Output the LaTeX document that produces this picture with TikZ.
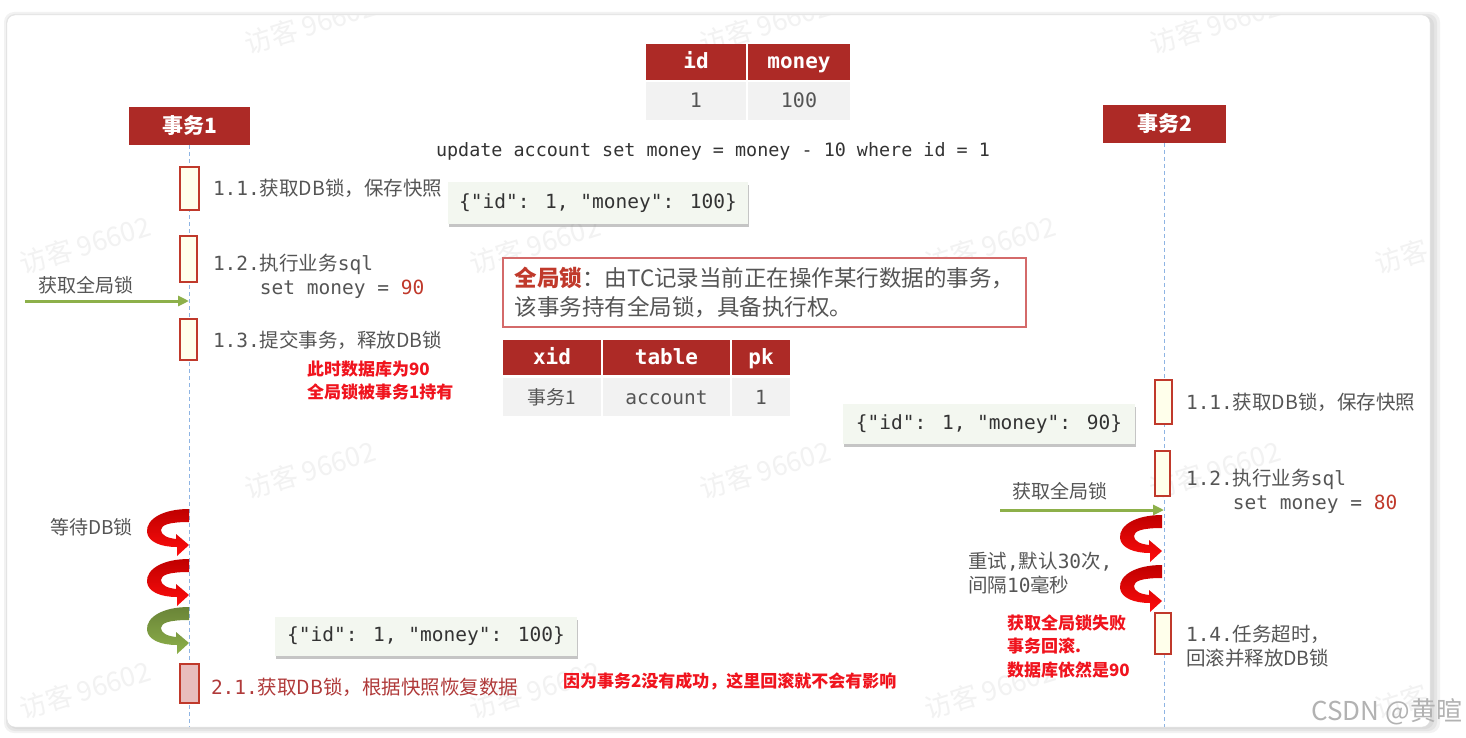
\documentclass[tikz,border=0pt]{standalone}
\usepackage{fontspec}
\setmainfont{DejaVu Sans Mono}[Ligatures=TeXOff]
\newfontfamily\zh{Noto Sans CJK SC}
\usetikzlibrary{arrows.meta,shadows}
\definecolor{hdr}{HTML}{AD2A26}
\definecolor{txt}{HTML}{555555}
\definecolor{cellbg}{HTML}{F2F2F2}
\definecolor{actfill}{HTML}{FFFFEB}
\definecolor{actdraw}{HTML}{C0392B}
\definecolor{pinkfill}{HTML}{E8BDBD}
\definecolor{life}{HTML}{8EB4E3}
\definecolor{alert}{HTML}{F0141E}
\definecolor{jsonbg}{HTML}{F3F7F0}
\definecolor{garrow}{HTML}{8DB04A}
\definecolor{darkred}{HTML}{B03A3A}
\definecolor{numred}{HTML}{C0392B}
\definecolor{gboxdraw}{HTML}{D46A6A}
\newcommand\fsz[2]{\fontsize{#1}{#2}\selectfont}
\begin{document}
\begin{tikzpicture}[x=1pt,y=-1pt,
  every node/.style={inner sep=0pt,outer sep=0pt},
  lbl/.style={anchor=west,text=txt,font=\fsz{19.5}{24},align=left},
  zhlbl/.style={anchor=west,text=txt,font=\zh\fsz{19}{24},align=left},
  note/.style={anchor=west,text=alert,font=\zh\bfseries\fsz{17}{23.5},align=left},
  hdrbox/.style={fill=hdr,text=white,font=\zh\bfseries\fsz{21}{25},minimum width=121,minimum height=38},
  thead/.style={fill=hdr,text=white,font=\bfseries\fsz{21}{25},text height=15,text depth=1},
  tcell/.style={fill=cellbg,text=txt,font=\fsz{20}{24},text height=15,text depth=1},
  act/.style={draw=actdraw,fill=actfill,line width=1.3pt},
  actpink/.style={draw=actdraw,fill=pinkfill,line width=1.3pt},
  lifeline/.style={draw=life,line width=1.2pt,dash pattern=on 4pt off 3pt},
  jsonbox/.style={fill=jsonbg,text=black!80,font=\fsz{19.5}{24},
     drop shadow={shadow xshift=1pt,shadow yshift=-3pt,fill=black!45,opacity=0.5}},
  greenarrow/.style={draw=garrow,line width=3pt,-{Triangle[length=11pt,width=10pt]}},
  wm/.style={text=black!5,font=\zh\fsz{27}{30},rotate=17},
  pics/carrow/.style 2 args={code={
    \shade[top color=#1,bottom color=#2]
      (0,0) .. controls (-26,0) and (-43,10) .. (-42,23)
      .. controls (-41,33) and (-28,38) .. (-12,38)
      -- (-12,47) -- (0,36) -- (-13,25) -- (-13,30)
      .. controls (-22,29) and (-28,26) .. (-28,21)
      .. controls (-28,16) and (-20,13) .. (0,13) -- cycle;
  }}
]
\useasboundingbox (0,0) rectangle (1466,738);
% card with shadow
\fill[black!5,rounded corners=10] (4,12) rectangle (1440,733);
\fill[black!10,rounded corners=9] (6,14) rectangle (1437,731);
\fill[black!14,rounded corners=9] (8,16) rectangle (1434,729);
\filldraw[fill=white,draw=black!12,rounded corners=8] (7,15) rectangle (1430,727);
% watermarks
\begin{scope}
\clip[rounded corners=8] (7,15) rectangle (1430,727);
\foreach \x/\y [count=\i] in {310/25,765/25,1215/25,85/245,535/245,990/245,1440/245,310/470,765/470,1215/470,85/690,535/690,990/690,1440/690}
  \node[wm] (wm\i) at (\x,\y) {访客 96602};
\end{scope}
% headers and lifelines
\node[hdrbox] (h1) at (189.5,126) {事务1};
\node[hdrbox,minimum width=123] (h2) at (1164.5,124) {事务2};
\coordinate (e1) at (189.5,727);
\coordinate (e2) at (1164.5,727);
\draw[lifeline] (h1.south) -- (e1);
\draw[lifeline] (h2.south) -- (e2);
% activation boxes
\node[act,minimum width=19,minimum height=43] (a11) at (189.5,188.5) {};
\node[act,minimum width=17,minimum height=46] (a12) at (188.5,259) {};
\node[act,minimum width=17,minimum height=41] (a13) at (188.5,339.5) {};
\node[actpink,minimum width=19,minimum height=39] (a21) at (189.5,683.5) {};
\node[act,minimum width=17,minimum height=44] (b11) at (1163.5,402) {};
\node[act,minimum width=15,minimum height=45] (b12) at (1162.5,473.5) {};
\node[act,minimum width=16,minimum height=41] (b14) at (1163,633.5) {};
% top table
\node[thead,minimum width=100,minimum height=36] (cid) at (696,62) {id};
\node[thead,minimum width=102,minimum height=36] (cmoney) at (799,62) {money};
\node[tcell,minimum width=100,minimum height=38] (vid) at (696,101) {1};
\node[tcell,minimum width=102,minimum height=38] (vmoney) at (799,101) {100};
\node[text=black!80,font=\fsz{18.4}{22}] (sql) at (713,151) {update account set money = money - 10 where id = 1};
% json boxes
\node[jsonbox,minimum width=300,minimum height=42] (j1) at (598,203) {\{"id": 1, "money": 100\}};
\node[jsonbox,minimum width=292,minimum height=40] (j2) at (989,424) {\{"id": 1, "money": 90\}};
\node[jsonbox,minimum width=302,minimum height=39] (j3) at (426,636.5) {\{"id": 1, "money": 100\}};
% global lock box
\node[draw=gboxdraw,line width=1.5pt,fill=white,minimum width=523,minimum height=69,
  align=left,text=txt,font=\zh\fsz{22.5}{29}] (gl) at (764.5,292.5)
  {{\color{numred}\bfseries 全局锁}：由TC记录当前正在操作某行数据的事务，\\该事务持有全局锁，具备执行权。};
% xid table
\node[thead,minimum width=98,minimum height=35] (cxid) at (552,357.5) {xid};
\node[thead,minimum width=127,minimum height=35] (ctable) at (666.5,357.5) {table};
\node[thead,minimum width=58,minimum height=35] (cpk) at (761,357.5) {pk};
\node[tcell,minimum width=98,minimum height=38,font=\zh\fsz{19}{24}] (vxid) at (552,397) {事务1};
\node[tcell,minimum width=127,minimum height=38,font=\fsz{19.5}{24}] (vtable) at (666.5,397) {account};
\node[tcell,minimum width=58,minimum height=38,font=\fsz{19.5}{24}] (vpk) at (761,397) {1};
% left labels
\node[lbl] (t11) at (213,188) {1.1.{\zh 获取DB锁，保存快照}};
\node[lbl] (t12) at (213,276) {1.2.{\zh 执行业务}sql\\\phantom{1.2.}set money = \textcolor{numred}{90}};
\node[lbl] (t13) at (213,340) {1.3.{\zh 提交事务，释放DB锁}};
\node[note] (n1) at (307,380.5) {此时数据库为90\\全局锁被事务1持有};
\node[zhlbl] (gl1) at (38,285) {获取全局锁};
\node[zhlbl] (w1) at (50,527) {等待DB锁};
\node[lbl,text=darkred] (t21) at (211,687) {2.1.{\zh 获取DB锁，根据快照恢复数据}};
\node[note] (n2) at (563,681) {因为事务2没有成功，这里回滚就不会有影响};
% right labels
\node[lbl] (s11) at (1186,402) {1.1.{\zh 获取DB锁，保存快照}};
\node[lbl] (s12) at (1186,491) {1.2.{\zh 执行业务}sql\\\phantom{1.2.}set money = \textcolor{numred}{80}};
\node[lbl] (s14) at (1186,646.5) {1.4.{\zh 任务超时，}\\{\zh 回滚并释放DB锁}};
\node[zhlbl] (gl2) at (1012,491) {获取全局锁};
\node[lbl] (retry) at (968,573) {{\zh 重试},{\zh 默认}30{\zh 次},\\{\zh 间隔}10{\zh 毫秒}};
\node[note] (n3) at (1007,646.5) {获取全局锁失败\\事务回滚.\\数据库依然是90};
% green arrows
\coordinate (g1s) at (25,301);
\coordinate (g1e) at (189,301);
\draw[greenarrow] (g1s) -- (g1e);
\coordinate (g2s) at (1000,510);
\coordinate (g2e) at (1164,510);
\draw[greenarrow] (g2s) -- (g2e);
% curved arrows
\pic at (189,509) {carrow={red!75!black}{red!95!white}};
\pic at (189,559) {carrow={red!75!black}{red!95!white}};
\pic at (189,607) {carrow={garrow!75!black}{garrow}};
\pic at (1162,515) {carrow={red!75!black}{red!95!white}};
\pic at (1162,565) {carrow={red!75!black}{red!95!white}};
% csdn mark
\node[anchor=east,text=black!30,font=\zh\fsz{26}{30}] (csdn) at (1462,712) {CSDN @黄暄};
\end{tikzpicture}
\end{document}
